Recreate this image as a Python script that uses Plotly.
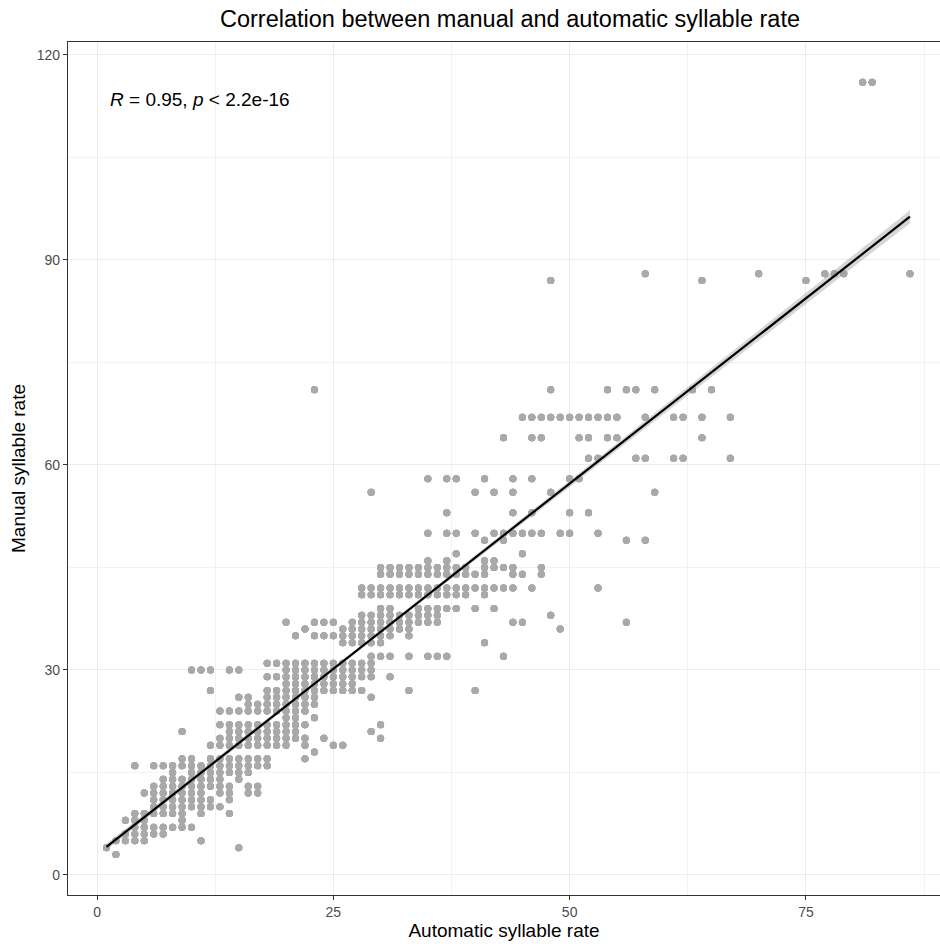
import numpy as np
import plotly.graph_objects as go

# ---- data (automatic rate column -> manual rates) ----
auto_rate_columns = [1, 2, 3, 4, 5, 6, 7, 8, 9, 10,
                     11, 12, 13, 14, 15, 16, 17, 18, 19, 20,
                     21, 22, 23, 24, 25, 26, 27, 28, 29, 30,
                     31, 32, 33, 34, 35, 36, 37, 38, 39, 40,
                     41, 42, 43, 44, 45, 46, 47, 48, 49, 50,
                     51, 52, 53, 54, 55, 56, 57, 58, 59, 61,
                     62, 63, 64, 65, 67, 70, 75, 77, 78, 79,
                     81, 82, 86]
manual_rate_columns = [
    [4],
    [3, 5],
    [5, 6, 8],
    [5, 6, 7, 8, 9, 16],
    [5, 6, 7, 8, 9, 12],
    [6, 7, 9, 10, 11, 12, 13, 16],
    [6, 7, 9, 10, 11, 12, 13, 14, 16],
    [7, 9, 10, 11, 12, 13, 14, 15, 16],
    [7, 8, 9, 10, 11, 12, 13, 14, 16, 17, 21],
    [7, 10, 11, 12, 13, 14, 15, 16, 17, 30],
    [5, 9, 10, 11, 12, 13, 14, 15, 16, 30],
    [10, 11, 13, 14, 15, 16, 17, 19, 27, 30],
    [10, 12, 13, 14, 15, 16, 17, 19, 20, 22, 24],
    [9, 11, 12, 13, 15, 16, 17, 19, 20, 21, 22, 24, 30],
    [4, 14, 15, 16, 17, 19, 20, 21, 22, 24, 26, 30],
    [12, 13, 15, 16, 17, 19, 20, 21, 22, 24, 25, 26],
    [12, 13, 16, 17, 19, 20, 21, 22, 24, 25],
    [16, 17, 19, 20, 21, 22, 24, 25, 26, 27, 29, 31],
    [19, 20, 21, 22, 24, 25, 26, 27, 29, 31],
    [19, 20, 21, 22, 23, 24, 25, 26, 27, 28, 29, 30, 31, 37],
    [20, 21, 22, 23, 24, 25, 26, 27, 28, 29, 30, 31, 35],
    [17, 19, 20, 22, 24, 25, 26, 27, 28, 29, 30, 31, 36],
    [18, 23, 25, 26, 27, 28, 29, 30, 31, 35, 37, 71],
    [20, 27, 28, 29, 30, 31, 35, 37],
    [19, 27, 28, 29, 30, 31, 35, 37],
    [19, 27, 28, 29, 30, 31, 34, 35, 36],
    [27, 28, 29, 30, 31, 34, 35, 36, 37],
    [27, 29, 30, 31, 34, 35, 36, 37, 38, 41, 42],
    [21, 26, 29, 30, 31, 32, 34, 35, 36, 37, 38, 41, 42, 56],
    [20, 22, 32, 34, 35, 36, 37, 38, 39, 41, 42, 44, 45],
    [29, 32, 35, 36, 37, 38, 39, 41, 42, 44, 45],
    [36, 37, 38, 41, 42, 44, 45],
    [27, 32, 35, 36, 37, 38, 41, 42, 44, 45],
    [37, 38, 39, 41, 42, 44, 45],
    [32, 37, 38, 39, 41, 42, 44, 45, 46, 50, 58],
    [32, 37, 38, 39, 41, 42, 44, 45],
    [32, 39, 41, 42, 44, 45, 46, 50, 53, 58],
    [39, 41, 42, 44, 45, 47, 50, 58],
    [41, 42, 44, 45],
    [27, 39, 42, 44, 50, 56],
    [34, 41, 42, 44, 45, 46, 49, 58],
    [39, 42, 45, 46, 50, 56],
    [32, 42, 45, 49, 50, 64],
    [37, 42, 44, 45, 50, 53, 56, 58],
    [37, 44, 47, 50, 67],
    [42, 50, 53, 58, 64, 67],
    [44, 45, 50, 64, 67],
    [38, 56, 67, 71, 87],
    [36, 50, 67],
    [50, 53, 58, 67],
    [58, 64, 67],
    [53, 61, 64, 67],
    [42, 50, 61, 67],
    [64, 67, 71],
    [64, 67],
    [37, 49, 71],
    [61, 71],
    [49, 61, 67, 88],
    [56, 71],
    [61, 67],
    [61, 67],
    [71],
    [64, 67, 87],
    [71],
    [61, 67],
    [88],
    [87],
    [88],
    [88],
    [88],
    [116],
    [116],
    [88],
]
# estimated number of recordings hidden behind each visible dot (overplotting);
# the narrow confidence band of the reference implies many more rows than dots
overlap_counts = [6, 6, 6, 6, 6, 6, 6, 6, 6, 6,
                  6, 6, 6, 6, 6, 6, 6, 6, 6, 6,
                  6, 6, 6, 6, 6, 6, 6, 6, 6, 6,
                  6, 6, 6, 6, 6, 6, 6, 6, 6, 6,
                  6, 6, 6, 6, 6, 6, 6, 6, 6, 6,
                  6, 6, 6, 6, 6, 6, 6, 6, 6, 6,
                  6, 6, 6, 6, 6, 6, 6, 6, 6, 6,
                  6, 6, 6]

x_ticks = [0, 25, 50, 75]
y_ticks = [0, 30, 60, 90, 120]
title_text = "Correlation between manual and automatic syllable rate"
x_title = "Automatic syllable rate"
y_title = "Manual syllable rate"
cor_label = "<i>R</i> = 0.95, <i>p</i> &lt; 2.2e-16"

# ---- flatten ----
auto_rate = []
manual_rate = []
for xv, ys, cnt in zip(auto_rate_columns, manual_rate_columns, overlap_counts):
    for yv in ys:
        for _ in range(cnt):
            auto_rate.append(xv)
            manual_rate.append(yv)
auto_rate = np.array(auto_rate, dtype=float)
manual_rate = np.array(manual_rate, dtype=float)

# ---- linear fit with 95% confidence band (like geom_smooth(method="lm")) ----
n = len(auto_rate)
slope, intercept = np.polyfit(auto_rate, manual_rate, 1)
resid = manual_rate - (slope * auto_rate + intercept)
s = np.sqrt(np.sum(resid ** 2) / (n - 2))
xbar = auto_rate.mean()
sxx = np.sum((auto_rate - xbar) ** 2)
xg = np.linspace(auto_rate.min(), auto_rate.max(), 80)
yg = slope * xg + intercept
se = s * np.sqrt(1.0 / n + (xg - xbar) ** 2 / sxx)
tcrit = 1.96
upper = yg + tcrit * se
lower = yg - tcrit * se

fig = go.Figure()
fig.add_trace(go.Scatter(
    x=auto_rate, y=manual_rate, mode="markers",
    marker=dict(color="#A9A9A9", size=7, line=dict(width=0)),
    showlegend=False, hoverinfo="x+y"))
fig.add_trace(go.Scatter(
    x=np.concatenate([xg, xg[::-1]]), y=np.concatenate([upper, lower[::-1]]),
    fill="toself", fillcolor="rgba(153,153,153,0.4)", line=dict(width=0),
    mode="lines", showlegend=False, hoverinfo="skip"))
fig.add_trace(go.Scatter(
    x=xg, y=yg, mode="lines", line=dict(color="black", width=2.2),
    showlegend=False, hoverinfo="skip"))

font_family = "Arial, Liberation Sans, sans-serif"
fig.update_layout(
    width=940, height=946,
    margin=dict(l=68, r=0, t=42, b=51),
    paper_bgcolor="white", plot_bgcolor="white",
    font=dict(family=font_family, color="black"),
    title=dict(text=title_text, x=(510 - 68) / 872, xref="paper", xanchor="center",
               y=1 - 19 / 946, yref="container", yanchor="middle",
               font=dict(size=23.5, color="black", family=font_family)),
    annotations=[dict(text=cor_label, xref="paper", yref="paper",
                      x=(108 - 68) / 872, y=(895 - 99) / 853,
                      xanchor="left", yanchor="middle", showarrow=False,
                      font=dict(size=19, color="black", family=font_family))],
)
axis_common = dict(
    showgrid=True, gridcolor="#EBEBEB", gridwidth=1.2,
    zeroline=False, showline=True, linecolor="#333333", linewidth=1.2,
    ticks="outside", ticklen=4, tickcolor="#333333",
    tickfont=dict(size=14, color="#4D4D4D", family=font_family),
)
fig.update_xaxes(
    range=[-3.07, 89.18], tickmode="array", tickvals=x_ticks,
    ticktext=[str(v) for v in x_ticks], mirror=True,
    minor=dict(showgrid=True, gridcolor="#F2F2F2", dtick=12.5, tick0=12.5, ticks=""),
    title=dict(text=x_title, font=dict(size=19, color="black"), standoff=4),
    **axis_common)
fig.update_yaxes(
    range=[-2.93, 121.9], tickmode="array", tickvals=y_ticks,
    ticktext=[str(v) for v in y_ticks], mirror=False,
    minor=dict(showgrid=True, gridcolor="#F2F2F2", dtick=15, tick0=15, ticks=""),
    title=dict(text=y_title, font=dict(size=19, color="black"), standoff=6),
    **axis_common)

fig.write_html("out.html")
